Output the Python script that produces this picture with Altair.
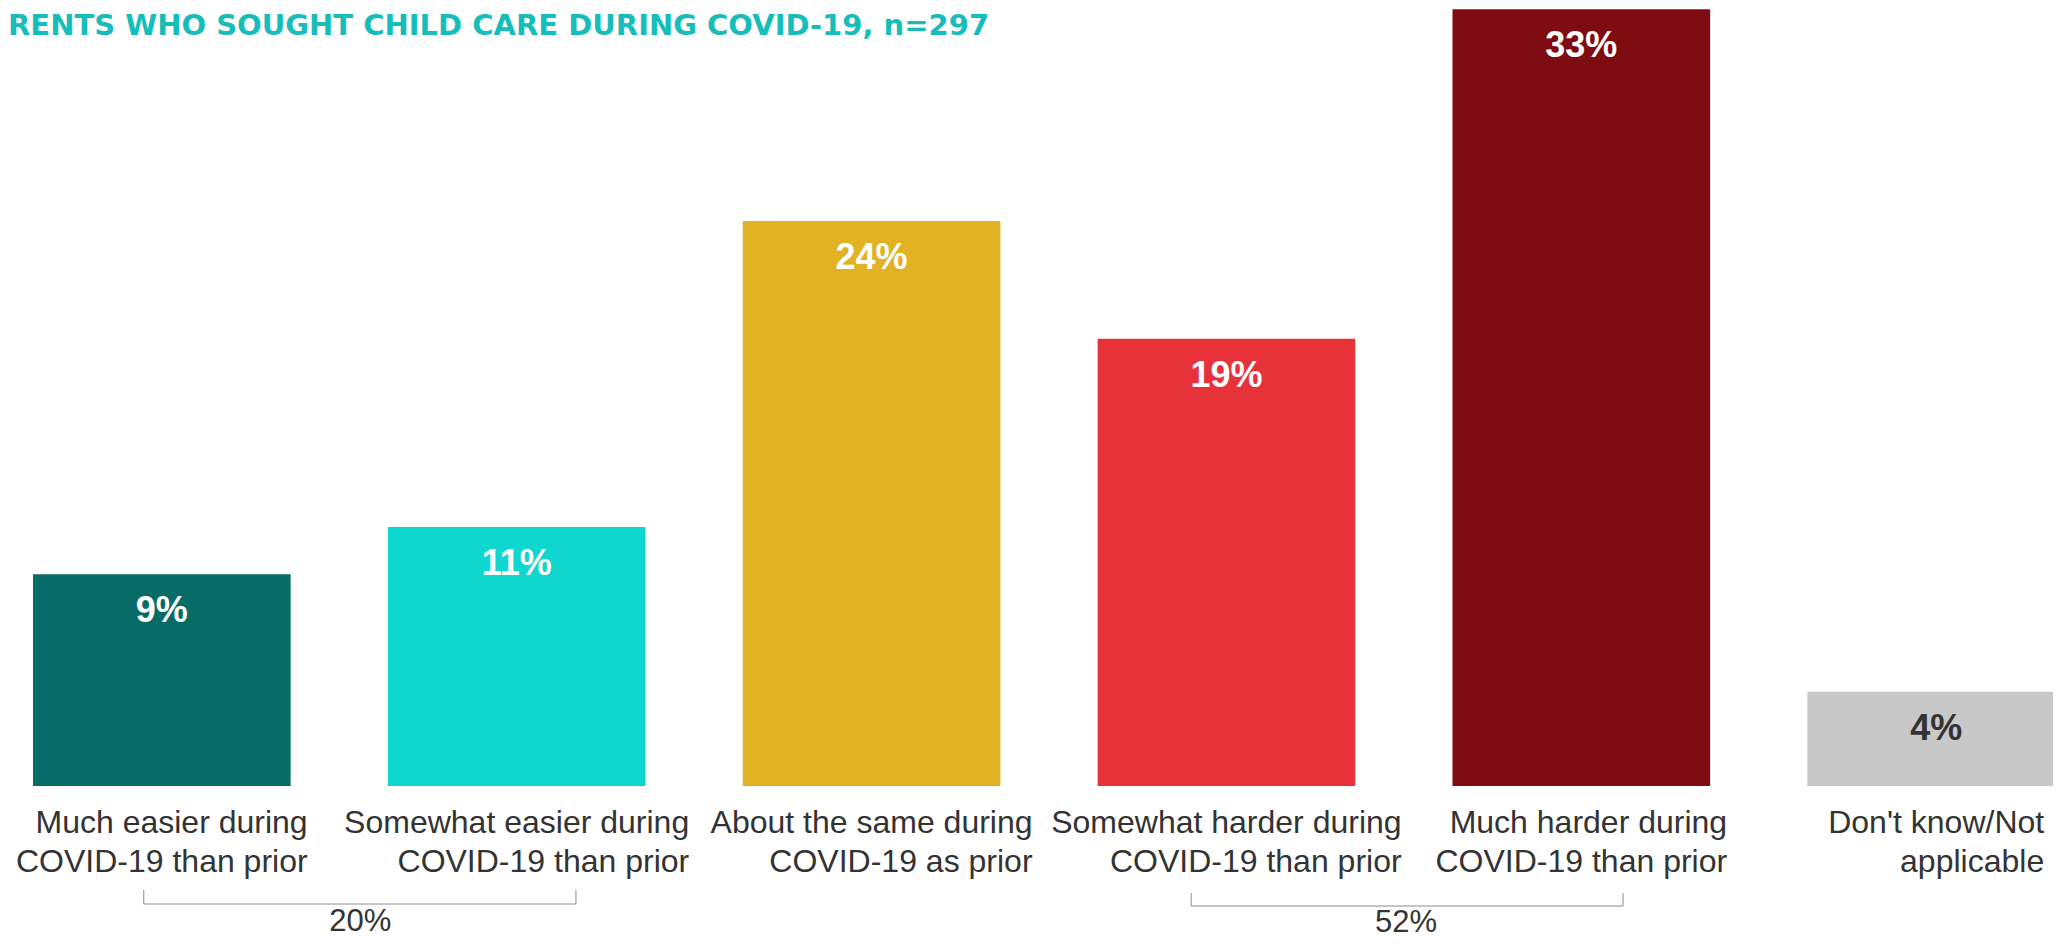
import altair as alt
import pandas as pd

# ---------------- data ----------------
categories = [
    "Much easier during COVID-19 than prior",
    "Somewhat easier during COVID-19 than prior",
    "About the same during COVID-19 as prior",
    "Somewhat harder during COVID-19 than prior",
    "Much harder during COVID-19 than prior",
    "Don't know/Not applicable",
]
label_lines = [
    ["Much easier during", "COVID-19 than prior"],
    ["Somewhat easier during", "COVID-19 than prior"],
    ["About the same during", "COVID-19 as prior"],
    ["Somewhat harder during", "COVID-19 than prior"],
    ["Much harder during", "COVID-19 than prior"],
    ["Don't know/Not", "applicable"],
]
values = [9, 11, 24, 19, 33, 4]
value_labels = ["9%", "11%", "24%", "19%", "33%", "4%"]
bar_colors = ["#076B66", "#0FD6CE", "#E0B224", "#E8323A", "#7E0C10", "#C8C8C8"]
value_text_colors = ["#FFFFFF", "#FFFFFF", "#FFFFFF", "#FFFFFF", "#FFFFFF", "#333333"]

bracket_starts = [categories[0], categories[3]]
bracket_ends = [categories[1], categories[4]]
bracket_labels = ["20%", "52%"]

title_text = "RENTS WHO SOUGHT CHILD CARE DURING COVID-19, n=297"

# ---------------- helpers ----------------
LABEL_SIZE = 32
# Arial / Liberation Sans advance widths (per 1000 em) to centre right-aligned label blocks
ARIAL = {
    "M": 833, "u": 556, "c": 500, "h": 556, " ": 278, "e": 556, "a": 556, "s": 500,
    "i": 222, "r": 333, "d": 556, "n": 556, "g": 556, "C": 722, "O": 778, "V": 667,
    "I": 278, "D": 722, "-": 333, "1": 556, "9": 556, "t": 278, "p": 556, "o": 556,
    "S": 667, "m": 833, "w": 722, "A": 667, "b": 556, "'": 191, "k": 500, "/": 278,
    "N": 722, "l": 222,
}


def text_width(s, size):
    return sum(ARIAL.get(ch, 556) for ch in s) * size / 1000.0


bars = pd.DataFrame({
    "cat": categories,
    "value": values,
    "vlabel": value_labels,
    "tcolor": value_text_colors,
    "label": ["\n".join(l) for l in label_lines],
    "half": [max(text_width(x, LABEL_SIZE) for x in l) / 2.0 for l in label_lines],
})

x_scale = alt.Scale(domain=categories, range=[0, 2082], paddingInner=0.274, paddingOuter=0.0704)
y_scale = alt.Scale(domain=[0, 33.05])

base = alt.Chart(bars)

bar_layer = base.mark_bar(clip=True).encode(
    x=alt.X("cat:N", scale=x_scale, axis=None, sort=categories),
    y=alt.Y("value:Q", scale=y_scale, axis=None),
    color=alt.Color("cat:N", scale=alt.Scale(domain=categories, range=bar_colors), legend=None),
)

value_layer = base.mark_text(
    font="Liberation Sans", fontWeight="bold", fontSize=36, baseline="alphabetic", dy=48
).encode(
    x=alt.X("cat:N", scale=x_scale, axis=None, sort=categories),
    y=alt.Y("value:Q", scale=y_scale, axis=None),
    text="vlabel:N",
    color=alt.Color("tcolor:N", scale=None),
)

cat_label_layer = base.mark_text(
    font="Liberation Sans", fontSize=LABEL_SIZE, align="right", baseline="alphabetic",
    lineHeight=39, lineBreak="\n", color="#333333", dx={"expr": "datum.half"},
).encode(
    x=alt.X("cat:N", scale=x_scale, axis=None, sort=categories),
    y=alt.value(825),
    text="label:N",
)

title_layer = alt.Chart(pd.DataFrame({"t": [title_text]})).mark_text(
    font="DejaVu Sans", fontWeight="bold", fontSize=29, align="left",
    baseline="alphabetic", color="#16BDBA",
).encode(x=alt.value(0), y=alt.value(27), text="t:N")

# bracket geometry (band positions / pixel rows) per bracket
bracket_style = [
    {"bs": 0.43, "be": 0.73, "bm": 0.27, "top": 882, "bot": 896, "ty": 923},
    {"bs": 0.363, "be": 0.662, "bm": 0.197, "top": 885, "bot": 898, "ty": 924},
]

bracket_layers = []
for s, e, lab, st in zip(bracket_starts, bracket_ends, bracket_labels, bracket_style):
    bd = alt.Chart(pd.DataFrame({"s": [s], "e": [e], "lab": [lab]}))
    line_col = "#8C8C8C"
    left_tick = bd.mark_rule(color=line_col, strokeWidth=1).encode(
        x=alt.X("s:N", scale=x_scale, axis=None, bandPosition=st["bs"]),
        y=alt.value(st["top"]), y2=alt.value(st["bot"]),
    )
    right_tick = bd.mark_rule(color=line_col, strokeWidth=1).encode(
        x=alt.X("e:N", scale=x_scale, axis=None, bandPosition=st["be"]),
        y=alt.value(st["top"]), y2=alt.value(st["bot"]),
    )
    horiz = bd.mark_rule(color=line_col, strokeWidth=1).encode(
        x=alt.X("s:N", scale=x_scale, axis=None, bandPosition=st["bs"]),
        x2=alt.X2("e:N", bandPosition=st["be"]),
        y=alt.value(st["bot"]),
    )
    txt = bd.mark_text(
        font="Liberation Sans", fontSize=31, align="center", baseline="alphabetic", color="#333333",
        dx={"expr": "bandwidth('x') * %f" % st["bm"]},
    ).encode(
        x=alt.X("s:N", scale=x_scale, axis=None, bandPosition=1),
        y=alt.value(st["ty"]),
        text="lab:N",
    )
    bracket_layers += [left_tick, right_tick, horiz, txt]

chart = alt.layer(
    bar_layer, value_layer, cat_label_layer, title_layer, *bracket_layers
).properties(
    width=2045, height=778,
    autosize=alt.AutoSizeParams(type="none"),
    padding={"left": 0, "top": 0, "right": 0, "bottom": 153},
    background="#FFFFFF",
).configure_view(stroke=None)

chart.save("out.html", embed_options={"renderer": "svg", "actions": False})
